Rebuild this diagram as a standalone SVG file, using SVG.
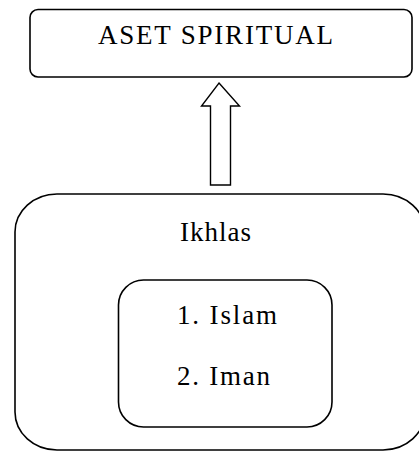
<svg xmlns="http://www.w3.org/2000/svg" width="419" height="452" viewBox="0 0 419 452">
  <style>
    .box { fill: #ffffff; stroke: #000000; stroke-width: 1.6; }
    .lbl { font-family: "Liberation Serif", "Times New Roman", serif; font-size: 27px; fill: #000000; }
    .arrow { fill: #ffffff; stroke: #000000; stroke-width: 1.4; stroke-linejoin: miter; }
  </style>
  <rect width="419" height="452" fill="#ffffff"/>

  <g id="aset-spiritual">
    <rect class="box" x="30" y="9.5" width="382" height="67.5" rx="8" ry="8"/>
    <text class="lbl" x="98" y="44" textLength="235" lengthAdjust="spacing">ASET SPIRITUAL</text>
  </g>

  <g id="connectors">
    <path class="arrow" d="M219,83 L239.5,106 L230.5,106 L230.5,185 L210.5,185 L210.5,106 L201.5,106 Z"/>
  </g>

  <g id="ikhlas">
    <rect class="box" x="15" y="194" width="410" height="256" rx="42" ry="38"/>
    <text class="lbl" x="180" y="240.5" textLength="71" lengthAdjust="spacing">Ikhlas</text>
  </g>

  <g id="islam-iman">
    <rect class="box" x="118.5" y="280" width="213.5" height="147" rx="25" ry="25"/>
    <text class="lbl" x="177" y="324" textLength="100" lengthAdjust="spacing">1. Islam</text>
    <text class="lbl" x="177" y="385" textLength="93" lengthAdjust="spacing">2. Iman</text>
  </g>
</svg>
